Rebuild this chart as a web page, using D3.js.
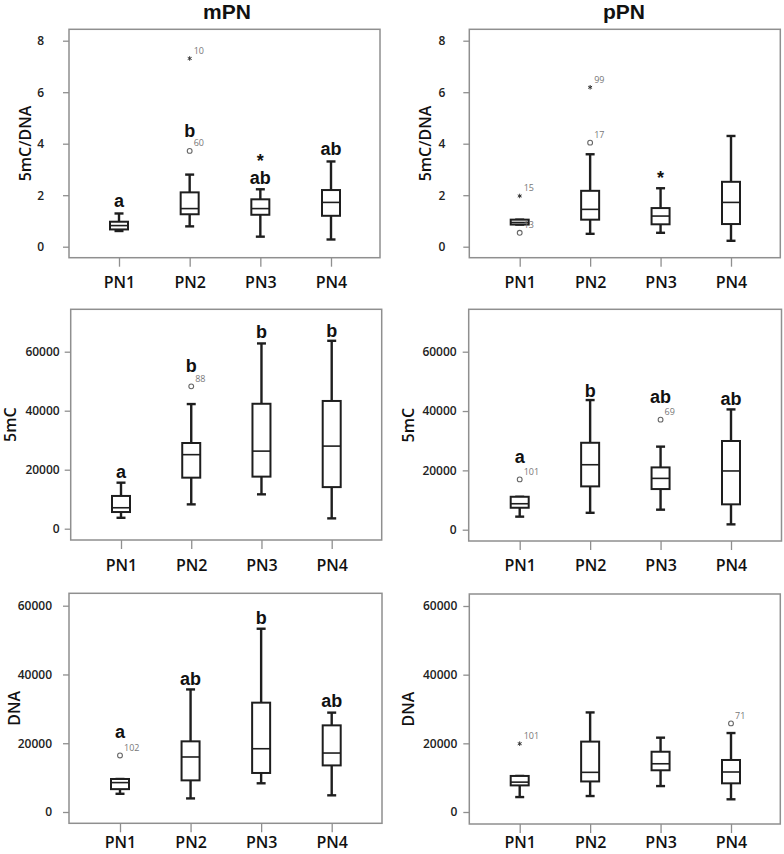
<!DOCTYPE html>
<html>
<head>
<meta charset="utf-8">
<script src="https://cdn.jsdelivr.net/npm/d3@7"></script>
<style>
  html, body { margin: 0; padding: 0; background: #fff; }
  svg { display: block; }
</style>
</head>
<body>
<svg id="chart" width="784" height="854"></svg>
<script>
// ---------------- DATA ----------------
const categories = ["PN1", "PN2", "PN3", "PN4"];
const columnTitles = ["mPN", "pPN"];
const rowTitles = ["5mC/DNA", "5mC", "DNA"];
const ratioTicks = [0, 2, 4, 6, 8];
const countTicks = [0, 20000, 40000, 60000];

// five-number summaries per category: [whiskerLow, q1, median, q3, whiskerHigh]
const mPN_ratio = [
  [0.61, 0.67, 0.82, 0.97, 1.29],
  [0.79, 1.26, 1.48, 2.11, 2.80],
  [0.39, 1.24, 1.48, 1.84, 2.23],
  [0.28, 1.20, 1.72, 2.20, 3.31]
];
const pPN_ratio = [
  [0.86, 0.86, 0.94, 1.05, 1.05],
  [0.50, 1.05, 1.45, 2.17, 3.59],
  [0.54, 0.87, 1.19, 1.50, 2.27],
  [0.23, 0.88, 1.72, 2.52, 4.30]
];
const mPN_5mC = [
  [3700, 5650, 7100, 11100, 15600],
  [8250, 17300, 25100, 29050, 42250],
  [11650, 17650, 26300, 42350, 62800],
  [3500, 14100, 28000, 43300, 63700]
];
const pPN_5mC = [
  [4400, 7400, 8750, 11100, 11100],
  [5700, 14600, 21900, 29300, 43700],
  [6750, 13700, 17300, 21000, 28000],
  [1800, 8550, 19800, 29900, 40550]
];
const mPN_DNA = [
  [5300, 6650, 8550, 9600, 9600],
  [3950, 9200, 16000, 20550, 35650],
  [8350, 11350, 18400, 31800, 53300],
  [4850, 13550, 17150, 25200, 28900]
];
const pPN_DNA = [
  [4350, 7750, 8700, 10500, 10500],
  [4650, 8900, 11550, 20500, 29000],
  [7550, 12150, 14050, 17550, 21650],
  [3700, 8350, 11650, 15150, 23000]
];

// outliers: [category, value, kind ("o" circle / "x" extreme), case label]
const mPN_ratio_out = [["PN2", 3.72, "o", "60"], ["PN2", 7.31, "x", "10"]];
const pPN_ratio_out = [["PN1", 1.97, "x", "15"], ["PN1", 0.54, "o", "13"], ["PN2", 4.04, "o", "17"], ["PN2", 6.19, "x", "99"]];
const mPN_5mC_out = [["PN2", 48250, "o", "88"]];
const pPN_5mC_out = [["PN1", 16950, "o", "101"], ["PN3", 37100, "o", "69"]];
const mPN_DNA_out = [["PN1", 16450, "o", "102"]];
const pPN_DNA_out = [["PN1", 19900, "x", "101"], ["PN4", 25800, "o", "71"]];

// group letters: [category, text, baseline value]
const mPN_ratio_letters = [["PN1", "a", 1.55], ["PN2", "b", 4.25], ["PN3", "ab", 2.43], ["PN4", "ab", 3.56], ["PN3", "*", 3.39]];
const pPN_ratio_letters = [["PN3", "*", 2.74]];
const mPN_5mC_letters = [["PN1", "a", 17100], ["PN2", "b", 53200], ["PN3", "b", 64500], ["PN4", "b", 65100]];
const pPN_5mC_letters = [["PN1", "a", 22400], ["PN2", "b", 44800], ["PN3", "ab", 42600], ["PN4", "ab", 42000]];
const mPN_DNA_letters = [["PN1", "a", 21600], ["PN2", "ab", 36900], ["PN3", "b", 54700], ["PN4", "ab", 30400]];
const pPN_DNA_letters = [];

// ---------------- LAYOUT ----------------
const layout = [
  { l: 69,    r: 380,   t: 29.3,  b: 257.7, y0: 246.7, yTop: 40.7,  x1: 119,   x4: 331,   tickLab: 25, yTitleX: 25,  xLabC: 282.7 },
  { l: 469.3, r: 780.3, t: 29.3,  b: 257.7, y0: 246.7, yTop: 40.7,  x1: 519.7, x4: 731,   tickLab: 24, yTitleX: 425, xLabC: 282.7 },
  { l: 70.7,  r: 381.7, t: 309.3, b: 540,   y0: 528.7, yTop: 351.7, x1: 121,   x4: 331.7, tickLab: 11, yTitleX: 10,  xLabC: 565 },
  { l: 468.7, r: 781.5, t: 309.3, b: 541,   y0: 529.7, yTop: 351.7, x1: 519.7, x4: 731,   tickLab: 12, yTitleX: 408, xLabC: 565 },
  { l: 69,    r: 382,   t: 593.3, b: 823.3, y0: 812,   yTop: 605.7, x1: 120,   x4: 331.7, tickLab: 17, yTitleX: 14,  xLabC: 842.5 },
  { l: 469.3, r: 780.3, t: 594,   b: 824,   y0: 812,   yTop: 606,   x1: 519.7, x4: 731,   tickLab: 12, yTitleX: 408, xLabC: 842.5 }
];

const panels = [
  { stats: mPN_ratio, out: mPN_ratio_out, letters: mPN_ratio_letters, ticks: ratioTicks, title: rowTitles[0] },
  { stats: pPN_ratio, out: pPN_ratio_out, letters: pPN_ratio_letters, ticks: ratioTicks, title: rowTitles[0] },
  { stats: mPN_5mC,   out: mPN_5mC_out,   letters: mPN_5mC_letters,   ticks: countTicks, title: rowTitles[1] },
  { stats: pPN_5mC,   out: pPN_5mC_out,   letters: pPN_5mC_letters,   ticks: countTicks, title: rowTitles[1] },
  { stats: mPN_DNA,   out: mPN_DNA_out,   letters: mPN_DNA_letters,   ticks: countTicks, title: rowTitles[2] },
  { stats: pPN_DNA,   out: pPN_DNA_out,   letters: pPN_DNA_letters,   ticks: countTicks, title: rowTitles[2] }
];

const svg = d3.select("#chart");
const FONT = "'Open Sans', 'Noto Sans', sans-serif";
const BOLD = "'Liberation Sans', Arial, sans-serif";
const frameColor = "#8f8f8f";
const ink = "#1e1e1e";

const titleX = [227, 624];
columnTitles.forEach((t, i) => {
  svg.append("text")
    .attr("x", titleX[i]).attr("y", 18.5)
    .attr("text-anchor", "middle")
    .attr("font-family", BOLD).attr("font-weight", "bold").attr("font-size", 21)
    .attr("fill", "#111")
    .text(t);
});

panels.forEach((p, i) => {
  const L = layout[i];
  const topTick = p.ticks[p.ticks.length - 1];
  const y = d3.scaleLinear().domain([0, topTick]).range([L.y0, L.yTop]);
  const x = d3.scalePoint().domain(categories).range([L.x1, L.x4]);
  const g = svg.append("g");

  g.append("rect")
    .attr("x", L.l).attr("y", L.t)
    .attr("width", L.r - L.l).attr("height", L.b - L.t)
    .attr("fill", "#fff").attr("stroke", frameColor).attr("stroke-width", 1.5);

  const ya = g.append("g").attr("transform", `translate(${L.l},0)`)
    .call(d3.axisLeft(y).tickValues(p.ticks).tickSize(6).tickPadding(L.tickLab - 6).tickFormat(d3.format("d")));
  ya.select(".domain").remove();
  ya.selectAll(".tick line").attr("stroke", frameColor).attr("stroke-width", 1.3);
  ya.selectAll(".tick text")
    .attr("font-family", FONT).attr("font-size", 12).attr("font-weight", 600).attr("fill", "#222");

  const xa = g.append("g").attr("transform", `translate(0,${L.b})`)
    .call(d3.axisBottom(x).tickSize(9).tickPadding(0));
  xa.select(".domain").remove();
  xa.selectAll(".tick line").attr("stroke", frameColor).attr("stroke-width", 1.3);
  xa.selectAll(".tick text")
    .attr("y", L.xLabC - L.b).attr("dy", "0.36em")
    .attr("font-family", FONT).attr("font-size", 16).attr("font-weight", 600).attr("fill", "#111");

  g.append("text")
    .attr("transform", `translate(${L.yTitleX},${(L.t + L.b) / 2}) rotate(-90)`)
    .attr("text-anchor", "middle").attr("dy", "0.36em")
    .attr("font-family", FONT).attr("font-size", 16).attr("font-weight", 600).attr("fill", "#111")
    .text(p.title);

  const bw = 18, cw = 9;
  p.stats.forEach((s, j) => {
    const cx = x(categories[j]);
    const [lo, q1, md, q3, hi] = s;
    const bg = g.append("g").attr("stroke", ink).attr("fill", "none");
    bg.append("line").attr("x1", cx).attr("x2", cx).attr("y1", y(hi)).attr("y2", y(q3)).attr("stroke-width", 2.4);
    bg.append("line").attr("x1", cx).attr("x2", cx).attr("y1", y(q1)).attr("y2", y(lo)).attr("stroke-width", 2.4);
    bg.append("line").attr("x1", cx - cw / 2).attr("x2", cx + cw / 2).attr("y1", y(hi)).attr("y2", y(hi)).attr("stroke-width", 2.4);
    bg.append("line").attr("x1", cx - cw / 2).attr("x2", cx + cw / 2).attr("y1", y(lo)).attr("y2", y(lo)).attr("stroke-width", 2.4);
    bg.append("rect").attr("x", cx - bw / 2).attr("width", bw)
      .attr("y", y(q3)).attr("height", Math.max(0, y(q1) - y(q3)))
      .attr("fill", "#fff").attr("stroke-width", 2);
    bg.append("line").attr("x1", cx - bw / 2).attr("x2", cx + bw / 2).attr("y1", y(md)).attr("y2", y(md)).attr("stroke-width", 1.6);
  });

  const starSym = d3.symbol().type(d3.symbolAsterisk || d3.symbolCross).size(14);
  p.out.forEach(o => {
    const cx = x(o[0]), cy = y(o[1]);
    if (o[2] === "o") {
      g.append("circle").attr("cx", cx).attr("cy", cy).attr("r", 2.4)
        .attr("fill", "#fff").attr("stroke", "#666").attr("stroke-width", 1.1);
    } else {
      g.append("path").attr("d", starSym()).attr("transform", `translate(${cx},${cy})`)
        .attr("fill", "#333").attr("stroke", "#333").attr("stroke-width", 1);
    }
    g.append("text").attr("x", cx + 4).attr("y", cy - 4.5)
      .attr("font-family", FONT).attr("font-size", 9).attr("fill", "#777")
      .text(o[3]);
  });

  p.letters.forEach(lt => {
    const cx = x(lt[0]);
    const isStar = lt[1] === "*";
    g.append("text")
      .attr("x", cx).attr("y", y(lt[2]) + (isStar ? 8 : 0))
      .attr("text-anchor", "middle")
      .attr("font-family", BOLD).attr("font-weight", "bold").attr("font-size", 18)
      .attr("fill", "#111")
      .text(lt[1]);
  });
});
</script>
</body>
</html>
